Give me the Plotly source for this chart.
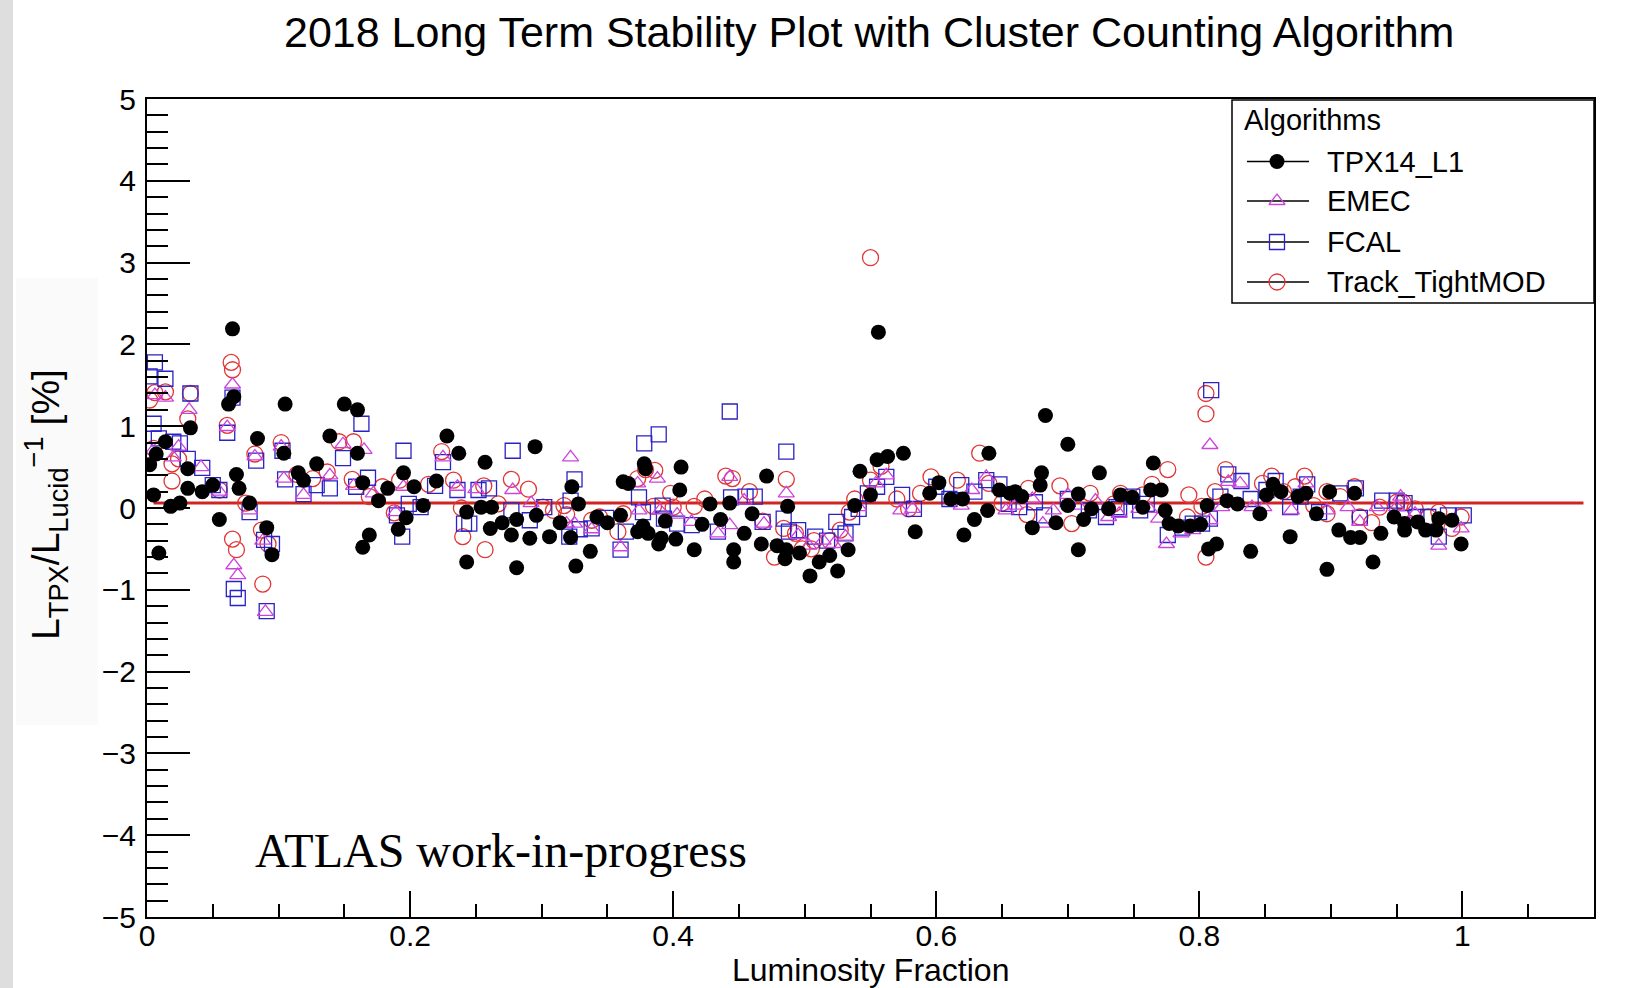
import plotly.graph_objects as go

# ---------------- data ----------------
tpx_x = [0.065, 0.062, 0.066, 0.105, 0.150, 0.160, 0.033, 0.084, 0.014, 0.139, 0.228, 0.237, 0.104, 0.160, 0.007, 0.002, 0.031, 0.068, 0.129, 0.115, 0.119, 0.195, 0.220, 0.031, 0.042, 0.050, 0.070, 0.164, 0.183, 0.203, 0.005, 0.018, 0.025, 0.078, 0.176, 0.210, 0.055, 0.091, 0.095, 0.009, 0.197, 0.191, 0.169, 0.164, 0.243, 0.243,
         0.295, 0.257, 0.254, 0.262, 0.261, 0.270, 0.277, 0.281, 0.281, 0.291, 0.296, 0.306, 0.314, 0.322, 0.323, 0.328, 0.326, 0.337, 0.342, 0.350, 0.360, 0.362, 0.366, 0.373, 0.378, 0.379, 0.377, 0.381, 0.389, 0.391, 0.394, 0.402, 0.406, 0.405, 0.416, 0.422, 0.428, 0.436, 0.443, 0.446, 0.446, 0.454, 0.460, 0.467, 0.471, 0.479, 0.485, 0.487, 0.486,
         0.556, 0.496, 0.504, 0.511, 0.519, 0.525, 0.533, 0.538, 0.542, 0.550, 0.555, 0.563, 0.575, 0.584, 0.595, 0.602, 0.611, 0.620, 0.621, 0.629, 0.639, 0.640, 0.648, 0.656, 0.660, 0.665, 0.673, 0.680, 0.679, 0.683, 0.691, 0.700, 0.700, 0.708, 0.708, 0.712, 0.718, 0.724, 0.731, 0.740,
         0.749, 0.757, 0.765, 0.763, 0.771, 0.774, 0.777, 0.784, 0.793, 0.801, 0.807, 0.813, 0.806, 0.821, 0.829, 0.839, 0.846, 0.851, 0.856, 0.862, 0.869, 0.875, 0.881, 0.889, 0.897, 0.899, 0.906, 0.915, 0.922, 0.918, 0.932, 0.938, 0.948, 0.956, 0.956, 0.966, 0.972, 0.980, 0.982, 0.992, 0.999]
tpx_y = [2.19, 1.27, 1.36, 1.27, 1.27, 1.20, 0.98, 0.85, 0.81, 0.88, 0.88, 0.67, 0.67, 0.67, 0.66, 0.53, 0.48, 0.41, 0.54, 0.43, 0.34, 0.43, 0.33, 0.24, 0.20, 0.28, 0.24, 0.31, 0.24, 0.26, 0.16, 0.02, 0.06, 0.06, 0.09, 0.03, -0.14, -0.24, -0.57, -0.55, -0.12, -0.26, -0.33, -0.48, -0.05, -0.66,
         0.75, 0.56, 0.01, 0.01, -0.25, -0.18, -0.33, -0.14, -0.73, -0.37, -0.09, -0.35, -0.18, -0.36, 0.26, 0.05, -0.71, -0.53, -0.11, -0.18, -0.09, 0.32, 0.30, -0.29, 0.54, 0.48, -0.22, -0.31, -0.44, -0.37, -0.16, -0.38, 0.50, 0.22, -0.51, -0.20, 0.05, -0.14, 0.06, -0.51, -0.66, -0.31, -0.07, -0.44, 0.39, -0.46, -0.62, 0.02, -0.51,
         2.15, -0.55, -0.83, -0.66, -0.58, -0.77, -0.51, 0.03, 0.45, 0.16, 0.59, 0.63, 0.67, -0.29, 0.18, 0.31, 0.11, 0.11, -0.33, -0.14, -0.03, 0.67, 0.22, 0.18, 0.20, 0.14, -0.24, 0.43, 0.28, 1.13, -0.18, 0.78, 0.03, 0.17, -0.51, -0.14, -0.01, 0.43, -0.01, 0.16,
         0.13, 0.01, 0.55, 0.22, 0.22, -0.03, -0.19, -0.22, -0.22, -0.20, -0.50, -0.44, 0.03, 0.09, 0.05, -0.53, -0.07, 0.16, 0.29, 0.20, -0.35, 0.14, 0.18, -0.07, -0.75, 0.20, -0.27, -0.36, -0.36, 0.18, -0.66, -0.31, -0.11, -0.27, -0.19, -0.17, -0.27, -0.27, -0.13, -0.15, -0.44]

emec_x = [0.065, 0.006, 0.014, 0.032, 0.061, 0.102, 0.082, 0.024, 0.005, 0.041, 0.149, 0.165, 0.225, 0.104, 0.139, 0.119, 0.055, 0.236, 0.195, 0.078, 0.189, 0.088, 0.066, 0.069, 0.090, 0.157, 0.172, 0.020,
          0.250, 0.278, 0.322, 0.292, 0.319, 0.325, 0.360, 0.373, 0.388, 0.374, 0.390, 0.403, 0.434, 0.443, 0.443, 0.454, 0.469, 0.486, 0.414, 0.338,
          0.495, 0.503, 0.514, 0.522, 0.531, 0.541, 0.554, 0.562, 0.573, 0.582, 0.619, 0.638, 0.627, 0.653, 0.660, 0.673, 0.681, 0.689, 0.700, 0.708, 0.721, 0.731,
          0.808, 0.739, 0.754, 0.762, 0.769, 0.775, 0.786, 0.795, 0.808, 0.817, 0.822, 0.831, 0.840, 0.849, 0.870, 0.881, 0.897, 0.913, 0.922, 0.935, 0.950, 0.964, 0.982, 0.999, 0.953]
emec_y = [1.51, 1.38, 1.35, 1.20, 0.99, 0.75, 0.63, 0.75, 0.71, 0.50, 0.78, 0.71, 0.62, 0.36, 0.40, 0.16, 0.20, 0.26, 0.26, -0.03, -0.05, -0.40, -0.70, -0.82, -1.27, 0.27, 0.18, 0.62,
          0.23, 0.22, 0.62, 0.06, -0.19, -0.19, -0.48, 0.30, 0.36, -0.03, -0.03, -0.08, -0.31, 0.38, -0.21, 0.09, -0.19, 0.18, -0.17, -0.26,
          -0.33, -0.46, -0.40, -0.44, -0.35, 0.01, 0.30, 0.40, -0.03, -0.01, 0.03, 0.38, 0.22, -0.03, 0.03, 0.11, -0.19, -0.03, 0.16, 0.03, 0.09, -0.11,
          0.77, -0.07, -0.01, -0.01, -0.13, -0.44, -0.31, -0.27, -0.15, 0.01, 0.32, 0.30, 0.01, 0.01, -0.03, 0.30, -0.03, 0.01, -0.17, 0.01, 0.01, -0.07, -0.46, -0.25, 0.14]

fcal_x = [0.006, 0.002, 0.014, 0.065, 0.033, 0.005, 0.009, 0.025, 0.020, 0.031, 0.042, 0.061, 0.103, 0.083, 0.050, 0.055, 0.163, 0.195, 0.149, 0.225, 0.105, 0.129, 0.139, 0.119, 0.159, 0.168, 0.219, 0.236, 0.078, 0.190, 0.208, 0.199, 0.089, 0.095, 0.066, 0.069, 0.091, 0.194, 0.241,
          0.278, 0.325, 0.378, 0.389, 0.443, 0.486, 0.245, 0.252, 0.260, 0.277, 0.291, 0.302, 0.322, 0.321, 0.329, 0.338, 0.349, 0.360, 0.364, 0.374, 0.377, 0.392, 0.393, 0.403, 0.414, 0.434, 0.444, 0.455, 0.462, 0.468, 0.484, 0.488,
          0.495, 0.508, 0.517, 0.524, 0.531, 0.536, 0.541, 0.548, 0.555, 0.562, 0.574, 0.583, 0.600, 0.610, 0.619, 0.629, 0.638, 0.648, 0.655, 0.663, 0.675, 0.682, 0.700, 0.716, 0.729, 0.737,
          0.809, 0.822, 0.832, 0.739, 0.749, 0.755, 0.760, 0.776, 0.787, 0.795, 0.802, 0.808, 0.816, 0.839, 0.851, 0.858, 0.869, 0.877, 0.882, 0.891, 0.907, 0.919, 0.922, 0.939, 0.950, 0.956, 0.965, 0.974, 0.982, 0.989, 1.001]
fcal_y = [1.78, 1.61, 1.58, 1.35, 1.40, 1.03, 0.85, 0.79, 0.81, 0.60, 0.49, 0.92, 0.70, 0.58, 0.28, 0.22, 1.03, 0.70, 0.61, 0.56, 0.35, 0.28, 0.24, 0.17, 0.26, 0.37, 0.27, 0.22, -0.05, -0.09, 0.01, 0.05, -0.39, -0.44, -0.99, -1.10, -1.26, -0.35, -0.19,
          0.70, 0.35, 0.79, 0.90, 1.18, 0.69, -0.19, 0.22, 0.24, -0.03, -0.15, 0.01, 0.09, -0.35, -0.26, -0.25, -0.12, -0.51, -0.29, 0.13, -0.05, 0.03, -0.13, -0.19, -0.21, -0.29, 0.13, 0.14, 0.14, -0.17, -0.13, -0.29,
          -0.27, -0.35, -0.40, -0.17, -0.31, -0.11, -0.01, 0.18, 0.26, 0.38, 0.16, -0.01, 0.26, 0.11, 0.28, 0.20, 0.34, 0.29, 0.05, 0.01, 0.07, -0.09, 0.11, -0.03, -0.11, 0.01,
          1.44, 0.41, 0.33, -0.01, 0.14, -0.03, 0.05, -0.33, -0.24, -0.19, -0.19, -0.13, 0.14, 0.11, 0.22, 0.33, 0.01, 0.14, 0.29, -0.05, 0.18, 0.24, -0.12, 0.09, 0.09, 0.06, -0.11, -0.11, -0.35, -0.09, -0.09]

track_x = [0.064, 0.065, 0.002, 0.006, 0.014, 0.033, 0.031, 0.061, 0.102, 0.082, 0.005, 0.024, 0.019, 0.019, 0.146, 0.157, 0.224, 0.114, 0.126, 0.137, 0.156, 0.055, 0.075, 0.179, 0.192, 0.214, 0.233, 0.169, 0.188, 0.239, 0.240, 0.065, 0.068, 0.087, 0.092, 0.088,
           0.257, 0.277, 0.290, 0.256, 0.267, 0.301, 0.309, 0.317, 0.319, 0.338, 0.344, 0.358, 0.362, 0.373, 0.379, 0.386, 0.385, 0.398, 0.400, 0.416, 0.424, 0.440, 0.445, 0.458, 0.468, 0.477, 0.486, 0.484,
           0.493, 0.507, 0.498, 0.505, 0.519, 0.527, 0.534, 0.538, 0.550, 0.558, 0.570, 0.579, 0.588, 0.596, 0.616, 0.633, 0.640, 0.650, 0.670, 0.669, 0.694, 0.703, 0.717, 0.735, 0.550,
           0.776, 0.764, 0.757, 0.792, 0.805, 0.805, 0.805, 0.812, 0.820, 0.802, 0.791, 0.848, 0.855, 0.864, 0.873, 0.880, 0.887, 0.897, 0.897, 0.907, 0.918, 0.922, 0.931, 0.937, 0.950, 0.955, 0.964, 0.974, 0.982, 0.992, 0.999, 0.740]
track_y = [1.78, 1.69, 1.32, 1.41, 1.42, 1.40, 1.09, 1.01, 0.80, 0.66, 0.73, 0.60, 0.54, 0.33, 0.81, 0.81, 0.69, 0.41, 0.36, 0.44, 0.35, 0.22, 0.06, 0.26, 0.34, 0.29, 0.34, 0.14, -0.06, 0.00, -0.35, -0.38, -0.51, -0.27, -0.44, -0.93,
           -0.51, 0.35, 0.23, 0.27, 0.05, 0.01, -0.03, 0.03, -0.08, -0.15, -0.11, -0.29, -0.07, 0.36, 0.47, 0.46, 0.02, 0.18, 0.01, 0.02, 0.11, 0.39, 0.36, 0.20, -0.16, -0.60, 0.35, -0.25,
           -0.31, -0.40, -0.50, -0.50, -0.40, -0.27, -0.05, 0.11, 0.34, 0.51, 0.11, -0.01, 0.18, 0.38, 0.34, 0.67, 0.30, 0.06, 0.24, -0.08, 0.27, -0.19, 0.18, 0.05, 3.06,
           0.47, 0.29, 0.16, 0.16, 1.40, 1.15, -0.60, 0.20, 0.47, 0.02, -0.11, 0.30, 0.39, 0.20, 0.26, 0.39, 0.03, -0.07, 0.20, 0.14, 0.26, -0.11, -0.18, 0.01, 0.07, 0.07, -0.01, -0.11, -0.05, -0.25, -0.11, 0.18]

fit_x = [0.005, 1.092]
fit_y = [0.06, 0.06]

series_names = ["TPX14_L1", "EMEC", "FCAL", "Track_TightMOD"]
title_text = "2018 Long Term Stability Plot with Cluster Counting Algorithm"
x_title = "Luminosity Fraction"
y_title = "L<sub>TPX</sub>/L<sub>Lucid</sub><sup>−1</sup> [%]"
label_text = "ATLAS work-in-progress"
legend_title = "Algorithms"

# ---------------- styles ----------------
W, H = 1646, 988
L, R, T, B = 147, 1594, 99, 917   # plot area in pixels
SANS = "Liberation Sans, Arial, Helvetica, sans-serif"
SERIF = "Liberation Serif, Times New Roman, serif"
C_TPX = "#000000"
C_EMEC = "#cc44dd"
C_FCAL = "#2a22c4"
C_TRK = "#e03636"
C_FIT = "#d02424"

M_TPX = dict(symbol="circle", size=15, color=C_TPX, line=dict(width=0))
M_EMEC = dict(symbol="triangle-up-open", size=14, color=C_EMEC, line=dict(width=1.3, color=C_EMEC))
M_FCAL = dict(symbol="square-open", size=15, color=C_FCAL, line=dict(width=1.3, color=C_FCAL))
M_TRK = dict(symbol="circle-open", size=16, color=C_TRK, line=dict(width=1.3, color=C_TRK))


def px(xp):
    return (xp - L) / (R - L)


def py(yp):
    return (B - yp) / (B - T)


fig = go.Figure()

fig.add_trace(go.Scatter(x=fit_x, y=fit_y, mode="lines",
                         line=dict(color=C_FIT, width=3), showlegend=False, hoverinfo="skip"))
fig.add_trace(go.Scatter(x=track_x, y=track_y, mode="markers", name=series_names[3], marker=M_TRK, showlegend=False))
fig.add_trace(go.Scatter(x=fcal_x, y=fcal_y, mode="markers", name=series_names[2], marker=M_FCAL, showlegend=False))
fig.add_trace(go.Scatter(x=emec_x, y=emec_y, mode="markers", name=series_names[1], marker=M_EMEC, showlegend=False))
fig.add_trace(go.Scatter(x=tpx_x, y=tpx_y, mode="markers", name=series_names[0], marker=M_TPX, showlegend=False))

# ---------------- manual legend (ROOT style) ----------------
leg_rows = [161.5, 201, 242, 282]
leg_sym_x = 1277
leg_styles = [M_TPX, M_EMEC, M_FCAL, M_TRK]
shapes = []
annotations = []
# legend box (below traces so the symbols stay visible)
shapes.append(dict(type="rect", xref="paper", yref="paper", x0=px(1232), x1=px(1594), y0=py(303), y1=py(100),
                   line=dict(color="black", width=1.5), fillcolor="white", layer="below"))
for i, name in enumerate(series_names):
    yrow = leg_rows[i]
    shapes.append(dict(type="line", xref="paper", yref="paper", x0=px(1247), x1=px(1309), y0=py(yrow), y1=py(yrow),
                       line=dict(color="black", width=1.5), layer="below"))
    annotations.append(dict(text=name, xref="paper", yref="paper", x=px(1325), y=py(yrow), xanchor="left",
                            yanchor="middle", showarrow=False, font=dict(family=SANS, size=29, color="black")))
    fig.add_trace(go.Scatter(x=[leg_sym_x], y=[yrow], mode="markers", marker=leg_styles[i],
                             xaxis="x2", yaxis="y2", showlegend=False, hoverinfo="skip"))
annotations.append(dict(text=legend_title, xref="paper", yref="paper", x=px(1242), y=py(120), xanchor="left",
                        yanchor="middle", showarrow=False, font=dict(family=SANS, size=29, color="black")))

# titles
annotations.append(dict(text=title_text, xref="paper", yref="paper", x=px(869), y=py(32), xanchor="center",
                        yanchor="middle", showarrow=False, font=dict(family=SANS, size=43, color="black")))
annotations.append(dict(text=x_title, xref="paper", yref="paper", x=px(870), y=py(970), xanchor="center",
                        yanchor="middle", showarrow=False, font=dict(family=SANS, size=32, color="black")))
annotations.append(dict(text=y_title, xref="paper", yref="paper", x=px(46), y=py(505), xanchor="center",
                        yanchor="middle", textangle=-90, showarrow=False, font=dict(family=SANS, size=39, color="black")))
annotations.append(dict(text=label_text, xref="paper", yref="paper", x=px(253), y=py(850), xanchor="left",
                        yanchor="middle", showarrow=False, font=dict(family=SERIF, size=48, color="black")))

# subtle screenshot background edges
shapes.append(dict(type="rect", xref="paper", yref="paper", x0=px(0), x1=px(13), y0=py(988), y1=py(0),
                   line=dict(width=0), fillcolor="#dedede", layer="below"))
shapes.append(dict(type="rect", xref="paper", yref="paper", x0=px(16), x1=px(98), y0=py(725), y1=py(278),
                   line=dict(width=0), fillcolor="#fafafa", layer="below"))

tickfont = dict(family=SANS, size=30, color="black")
fig.update_layout(
    width=W, height=H,
    margin=dict(l=L, r=W - R, t=T, b=H - B, pad=0),
    paper_bgcolor="white", plot_bgcolor="white",
    showlegend=False,
    shapes=shapes, annotations=annotations,
    xaxis=dict(range=[0, 1.1], showgrid=False, zeroline=False, showline=True, linecolor="black", linewidth=2,
               mirror=True, ticks="inside", ticklen=26, tickwidth=1.5, tickcolor="black", tick0=0, dtick=0.2,
               tickfont=tickfont, ticklabelstandoff=-9,
               minor=dict(ticks="inside", ticklen=13, tickwidth=1.5, tickcolor="black", dtick=0.05, showgrid=False)),
    yaxis=dict(range=[-5, 5], showgrid=False, zeroline=False, showline=True, linecolor="black", linewidth=2,
               mirror=True, ticks="inside", ticklen=43, tickwidth=1.5, tickcolor="black", tick0=0, dtick=1,
               tickfont=tickfont, ticklabelstandoff=3,
               minor=dict(ticks="inside", ticklen=21, tickwidth=1.5, tickcolor="black", dtick=0.2, showgrid=False)),
    xaxis2=dict(domain=[0, 1], range=[L, R], overlaying="x", anchor="y2", visible=False, fixedrange=True),
    yaxis2=dict(domain=[0, 1], range=[B, T], overlaying="y", anchor="x2", visible=False, fixedrange=True),
)

fig.write_html("out.html")
